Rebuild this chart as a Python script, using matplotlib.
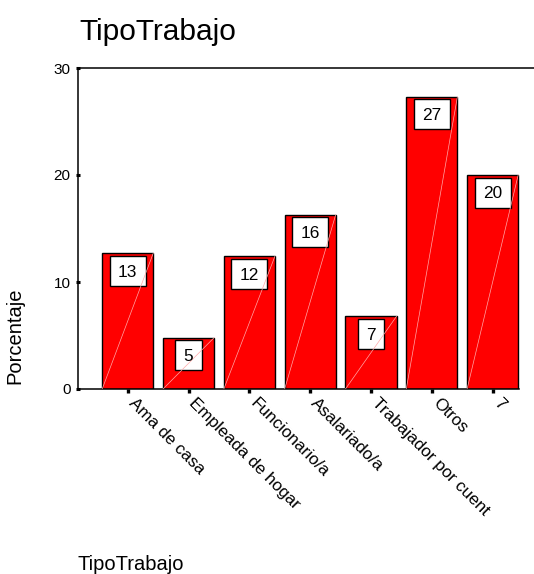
import matplotlib
matplotlib.use("Agg")
import matplotlib.pyplot as plt
import matplotlib.transforms as mtransforms
from matplotlib.patches import Rectangle

plt.rcParams['font.family'] = ['Liberation Sans', 'DejaVu Sans']

# Percentages per job type
categories = ["Ama de casa", "Empleada de hogar", "Funcionario/a", "Asalariado/a",
              "Trabajador por cuent", "Otros", "7"]
percentages = [12.7, 4.8, 12.4, 16.3, 6.8, 27.3, 20.0]
y_ticks = [0, 10, 20, 30]

W, H, DPI = 534, 574, 100
fig = plt.figure(figsize=(W / DPI, H / DPI), dpi=DPI)

ax_left, ax_right, ax_top, ax_bottom = 77.5, 534, 68, 389
ax = fig.add_axes([ax_left / W, 1 - ax_bottom / H,
                   (ax_right - ax_left) / W, (ax_bottom - ax_top) / H])

x = list(range(len(categories)))
bar_w = 0.84
bars = ax.bar(x, percentages, width=bar_w, color="#ff0000",
              edgecolor="black", linewidth=1.0, zorder=2)

ax.set_ylim(0, 30)
ax.set_xlim(-0.826, 6.68)

# Frame: left and top lines, bottom line stops at the last bar
for side in ("right", "bottom"):
    ax.spines[side].set_visible(False)
for side in ("left", "top"):
    ax.spines[side].set_linewidth(1.1)
ax.plot([-0.826, 6.43], [0, 0], color="black", lw=1.1, clip_on=False, zorder=3)

ax.set_yticks(y_ticks)
ax.set_yticklabels([str(t) for t in y_ticks], fontsize=11)
ax.tick_params(axis="y", direction="inout", length=3, width=2.2, pad=3.5)

ax.set_xticks(x)
ax.set_xticklabels(categories, fontsize=12.3, rotation=-45, ha="left",
                   va="baseline", rotation_mode="anchor")
ax.tick_params(axis="x", direction="out", length=3, width=2.4, pad=7.8)

# Faint diagonal line across each bar
for xi, v in zip(x, percentages):
    ax.plot([xi - bar_w / 2, xi + bar_w / 2], [0, v], color="#ffa8a8",
            lw=0.5, zorder=5)

# Value labels in white boxes at the top of each bar
label_fs_px = 17.2
for xi, v in zip(x, percentages):
    txt = f"{v:.0f}"
    bw = len(txt) * 0.556 * label_fs_px + 17.0
    bh = 30.0
    trans = fig.dpi_scale_trans + mtransforms.ScaledTranslation(xi, v, ax.transData)
    ax.add_patch(Rectangle((-bw / 2 / DPI, -(bh + 2.5) / DPI), bw / DPI, bh / DPI,
                           transform=trans, facecolor="white", edgecolor="black",
                           linewidth=1.0, zorder=4, clip_on=False))
    ax.annotate(txt, xy=(xi, v), xytext=(0, -(2.5 + bh / 2)),
                textcoords="offset pixels", ha="center", va="center_baseline",
                fontsize=label_fs_px * 0.72, zorder=6)

fig.text(79 / W, 1 - 40 / H, "TipoTrabajo", fontsize=21.5, ha="left", va="baseline")
fig.text(15 / W, 1 - 336 / H, "Porcentaje", fontsize=14.5, rotation=90,
         ha="center", va="center")
fig.text(77 / W, 1 - 570 / H, "TipoTrabajo", fontsize=14.5, ha="left", va="baseline")

fig.savefig("out.png", dpi=DPI)
